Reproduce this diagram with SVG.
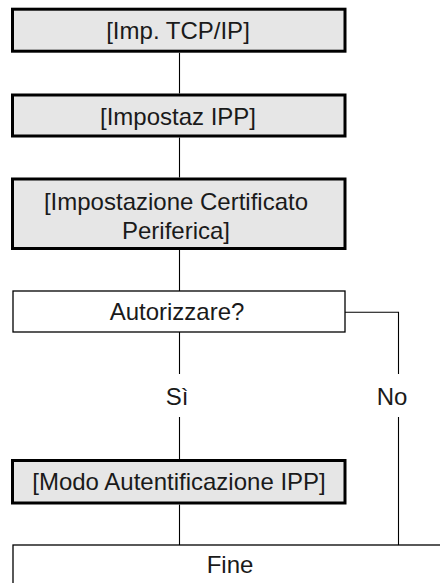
<svg xmlns="http://www.w3.org/2000/svg" width="440" height="583" viewBox="0 0 440 583">
<style>
.box{fill:#e6e6e6;stroke:#000;stroke-width:3}
.dec{fill:#fff;stroke:#000;stroke-width:1.3}
.ln{fill:none;stroke:#000;stroke-width:1.1}
text{font-family:"Liberation Sans",Arial,sans-serif;font-size:24px;fill:#1a1a1a;text-anchor:middle}
</style>
<rect width="440" height="583" fill="#fff"/>
<g id="connectors">
<path class="ln" d="M179.5 52.7V93.5M179.5 137.5V177.5M179.5 250V291M179.5 332V374M179.5 417V459M179.5 504.5V545"/>
<path class="ln" d="M345 312.3H398.5V374M398.5 417V545"/>
</g>
<g id="n1"><rect class="box" x="12.5" y="9.2" width="332.5" height="42"/><text x="178" y="39">[Imp. TCP/IP]</text></g>
<g id="n2"><rect class="box" x="12.5" y="95" width="332.5" height="41"/><text x="178" y="124.5">[Impostaz IPP]</text></g>
<g id="n3"><rect class="box" x="12.5" y="179" width="332.5" height="69.5"/><text x="176" y="209.5">[Impostazione Certificato</text><text x="176" y="238.5">Periferica]</text></g>
<g id="n4"><rect class="dec" x="13" y="291" width="332" height="41"/><text x="177" y="320">Autorizzare?</text></g>
<g id="l1"><text x="177" y="405">Sì</text></g>
<g id="l2"><text x="392" y="405">No</text></g>
<g id="n5"><rect class="box" x="12.5" y="460.5" width="332.5" height="42.5"/><text x="179" y="490">[Modo Autentificazione IPP]</text></g>
<g id="n6"><rect class="dec" x="13" y="545" width="440" height="60"/><text x="230" y="573">Fine</text></g>
</svg>
